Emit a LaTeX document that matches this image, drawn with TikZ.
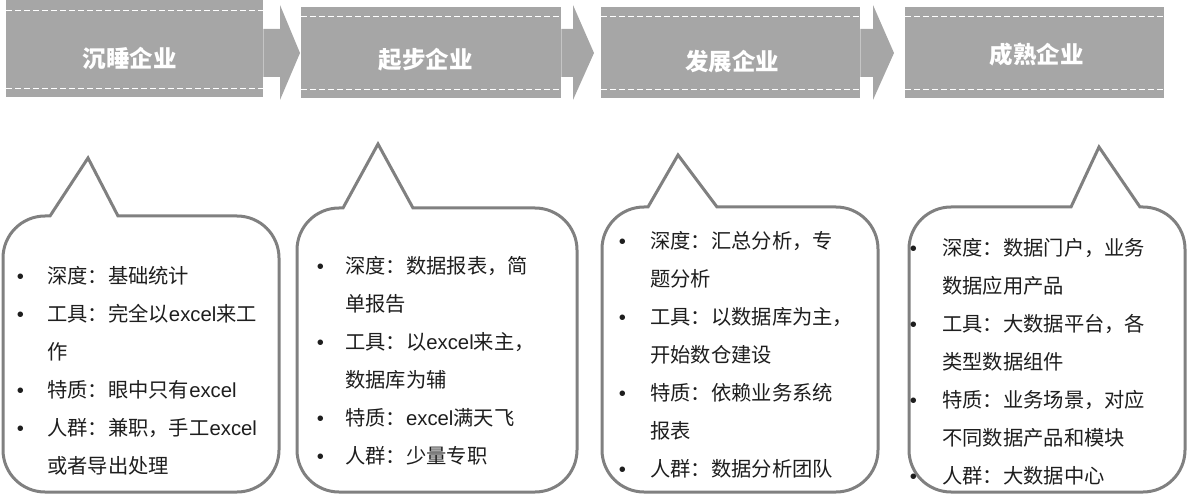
\documentclass[tikz,border=0pt]{standalone}
\usepackage{fontspec}
\setmainfont{Noto Sans CJK SC}
\newfontfamily\lat{Liberation Sans}
\usetikzlibrary{calc}
\definecolor{boxgray}{RGB}{166,166,166}
\definecolor{bubline}{RGB}{128,128,128}
\definecolor{txt}{RGB}{30,30,30}
\newcommand\itm[2]{\makebox[#1][l]{\lat •}#2}
\newcommand\cnt[2]{\makebox[#1]{}#2}
\newcommand\xl{{\lat excel}}
\begin{document}
\begin{tikzpicture}[x=1pt,y=1pt,
  stagebox/.style={fill=boxgray,draw=none,inner sep=0,minimum width=#1,anchor=north west},
  stagetext/.style={text=white,font=\fontsize{23.5}{28}\selectfont\bfseries,inner sep=0},
  dashline/.style={draw=white,line width=0.9pt,dash pattern=on 6pt off 3pt},
  bubble/.style={draw=bubline,line width=3pt,fill=white,line join=miter},
  bubtext/.style={anchor=north west,inner sep=0,align=left,text=txt,font=\fontsize{20.3}{38}\selectfont}]
\useasboundingbox (0,0) rectangle (1187,499);

% ---- top stage boxes ----
\node[stagebox=257pt,minimum height=97pt] (b1) at (6,499) {};
\node[stagebox=260pt,minimum height=91pt] (b2) at (301,492) {};
\node[stagebox=259pt,minimum height=91pt] (b3) at (601,492) {};
\node[stagebox=259pt,minimum height=91pt] (b4) at (905,492) {};

\draw[dashline] (b1.west |- 0,489) -- (b1.east |- 0,489);
\draw[dashline] (b1.west |- 0,411) -- (b1.east |- 0,411);
\foreach \b in {b2,b3,b4}{
  \draw[dashline] (\b.west |- 0,483) -- (\b.east |- 0,483);
  \draw[dashline] (\b.west |- 0,410) -- (\b.east |- 0,410);
}

% block arrows
\fill[boxgray] (b1.east |- 0,470) -- (280,470) -- (280,494) -- (300,446) -- (280,399) -- (280,422) -- (b1.east |- 0,422) -- cycle;
\fill[boxgray] (b2.east |- 0,470) -- (573,470) -- (573,494) -- (594,446) -- (573,399) -- (573,422) -- (b2.east |- 0,422) -- cycle;
\fill[boxgray] (b3.east |- 0,470) -- (873,470) -- (873,494) -- (894,446) -- (873,399) -- (873,422) -- (b3.east |- 0,422) -- cycle;

\node[stagetext] (t1) at (129.5,441) {沉睡企业};
\node[stagetext] (t2) at (425.5,439) {起步企业};
\node[stagetext] (t3) at (732,437) {发展企业};
\node[stagetext] (t4) at (1036.5,444) {成熟企业};

% ---- callout bubbles ----
\draw[bubble] (118,283) -- (237,283) arc[start angle=90,end angle=0,radius=42] -- (279,49) arc[start angle=0,end angle=-90,radius=42] -- (45,7) arc[start angle=270,end angle=180,radius=42] -- (3,241) arc[start angle=180,end angle=90,radius=42] -- (50,283) -- (88,341) -- cycle;
\draw[bubble] (413,291) -- (535,291) arc[start angle=90,end angle=0,radius=42] -- (577,49) arc[start angle=0,end angle=-90,radius=42] -- (339,7) arc[start angle=270,end angle=180,radius=42] -- (297,249) arc[start angle=180,end angle=90,radius=42] -- (343,291) -- (378,355) -- cycle;
\draw[bubble] (717,292) -- (836,292) arc[start angle=90,end angle=0,radius=42] -- (878,49) arc[start angle=0,end angle=-90,radius=42] -- (644,7) arc[start angle=270,end angle=180,radius=42] -- (602,250) arc[start angle=180,end angle=90,radius=42] -- (648,292) -- (678,344) -- cycle;
\draw[bubble] (1140,292) -- (1143,292) arc[start angle=90,end angle=0,radius=42] -- (1185,49) arc[start angle=0,end angle=-90,radius=42] -- (951,7) arc[start angle=270,end angle=180,radius=42] -- (909,250) arc[start angle=180,end angle=90,radius=42] -- (1071,292) -- (1099,352) -- cycle;

% ---- bubble texts ----
\node[bubtext] (c1) at (16.6,234) {%
\rule{0pt}{18pt}\itm{30.4pt}{深度：基础统计}\\
\itm{30.4pt}{工具：完全以\xl 来工}\\
\cnt{30.4pt}{作}\\
\itm{30.4pt}{特质：眼中只有\xl}\\
\itm{30.4pt}{人群：兼职，手工\xl}\\
\cnt{30.4pt}{或者导出处理}};

\node[bubtext] (c2) at (316.6,244) {%
\rule{0pt}{18pt}\itm{28.4pt}{深度：数据报表，简}\\
\cnt{28.4pt}{单报告}\\
\itm{28.4pt}{工具：以\xl 来主，}\\
\cnt{28.4pt}{数据库为辅}\\
\itm{28.4pt}{特质：\xl 满天飞}\\
\itm{28.4pt}{人群：少量专职}};

\node[bubtext] (c3) at (618.6,269) {%
\rule{0pt}{18pt}\itm{31.4pt}{深度：汇总分析，专}\\
\cnt{31.4pt}{题分析}\\
\itm{31.4pt}{工具：以数据库为主，}\\
\cnt{31.4pt}{开始数仓建设}\\
\itm{31.4pt}{特质：依赖业务系统}\\
\cnt{31.4pt}{报表}\\
\itm{31.4pt}{人群：数据分析团队}};

\node[bubtext] (c4) at (909.6,262) {%
\rule{0pt}{18pt}\itm{32.4pt}{深度：数据门户，业务}\\
\cnt{32.4pt}{数据应用产品}\\
\itm{32.4pt}{工具：大数据平台，各}\\
\cnt{32.4pt}{类型数据组件}\\
\itm{32.4pt}{特质：业务场景，对应}\\
\cnt{32.4pt}{不同数据产品和模块}\\
\itm{32.4pt}{人群：大数据中心}};
\end{tikzpicture}
\end{document}
